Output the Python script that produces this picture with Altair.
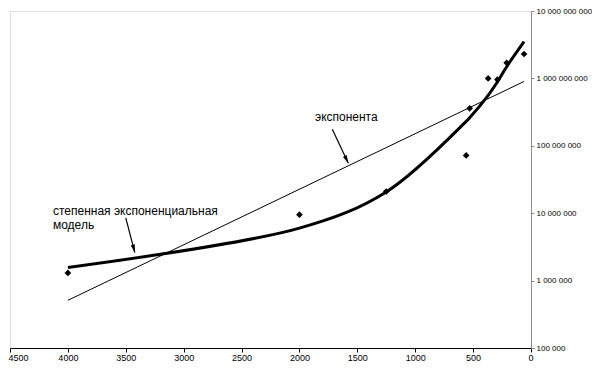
import altair as alt
import pandas as pd

# observed points (years before present, value)
pts_x = [4000, 2000, 1250, 560, 530, 370, 290, 210, 60]
pts_y = [1.3e6, 9.5e6, 2.1e7, 7.2e7, 3.6e8, 1.0e9, 9.6e8, 1.7e9, 2.3e9]

# exponential trend (straight line on log scale)
exp_x = [4000, 60]
exp_y = [5.1e5, 9.0e8]

# power-exponential model values at the data years
model_x = [4000, 2000, 1250, 560, 530, 370, 290, 210, 60]
model_y = [1.57e6, 6.0e6, 2.07e7, 2.3e8, 2.6e8, 5.6e8, 8.9e8, 1.49e9, 3.5e9]

x_ticks = list(range(0, 4501, 500))
y_ticks = [1e5, 1e6, 1e7, 1e8, 1e9, 1e10]

# annotations
ann1_text = ["экспонента"]
ann1_x = [1595]
ann1_y = [2.7e8]
ann2_text = ["степенная экспоненциальная\nмодель"]
ann2_x = [4129]
ann2_y = [1.08e7]

arrow_x = [1716, 3500]
arrow_y = [1.76e8, 8.5e6]
arrow_x2 = [1578, 3422]
arrow_y2 = [5.5e7, 2.6e6]
arrow_angle = [154.8, 165.6]

FONT = "Liberation Sans"

xscale = alt.Scale(domain=[0, 4500], reverse=True, nice=False, zero=False)
yscale = alt.Scale(type="log", domain=[1e5, 1e10], nice=False)

xaxis = alt.Axis(values=x_ticks, format="d", title=None, grid=False,
                 labelFont=FONT, labelFontSize=9, labelColor="black",
                 domainColor="black", tickColor="black", tickSize=4,
                 labelPadding=1, labelFlush=True, labelFlushOffset=2)
yaxis = alt.Axis(orient="right", values=y_ticks, title=None, grid=False,
                 labelExpr="replace(format(datum.value, ',d'), regexp(',', 'g'), ' ')",
                 labelFont=FONT, labelFontSize=8, labelColor="black",
                 domainColor="#8c8c8c", tickColor="#8c8c8c", tickSize=3,
                 labelPadding=2)

X = lambda f: alt.X(f, type="quantitative", scale=xscale, axis=xaxis)
Y = lambda f: alt.Y(f, type="quantitative", scale=yscale, axis=yaxis)

pts = pd.DataFrame({"x": pts_x, "y": pts_y})
expd = pd.DataFrame({"x": exp_x, "y": exp_y})
mod = pd.DataFrame({"x": model_x, "y": model_y})
a1 = pd.DataFrame({"x": ann1_x, "y": ann1_y, "t": ann1_text})
a2 = pd.DataFrame({"x": ann2_x, "y": ann2_y, "t": ann2_text})
arr = pd.DataFrame({"x": arrow_x, "y": arrow_y, "x2": arrow_x2, "y2": arrow_y2,
                    "a": arrow_angle})

exp_line = alt.Chart(expd).mark_line(color="black", strokeWidth=1).encode(
    x=X("x"), y=Y("y"))
model_line = alt.Chart(mod).mark_line(color="black", strokeWidth=3,
                                      interpolate="catmull-rom").encode(
    x=X("x"), y=Y("y"))
points = alt.Chart(pts).mark_point(shape="diamond", filled=True, color="black",
                                   size=45, opacity=1).encode(x=X("x"), y=Y("y"))
t1 = alt.Chart(a1).mark_text(font=FONT, fontSize=12, color="black",
                             align="center", baseline="middle").encode(
    x=X("x"), y=Y("y"), text="t:N")
t2 = alt.Chart(a2).mark_text(font=FONT, fontSize=12, color="black",
                             align="left", baseline="middle", lineBreak="\n",
                             lineHeight=14).encode(
    x=X("x"), y=Y("y"), text="t:N")
rules = alt.Chart(arr).mark_rule(color="black", strokeWidth=1.2).encode(
    x=X("x"), y=Y("y"), x2="x2:Q", y2="y2:Q")
heads = alt.Chart(arr).mark_point(shape="M0,0L-0.26,1L0.26,1Z", filled=True,
                                  color="black", size=260, opacity=1).encode(
    x=X("x2"), y=Y("y2"), angle=alt.Angle("a:Q", scale=None))

chart = alt.layer(exp_line, model_line, points, t1, t2, rules, heads).properties(
    width=521, height=337,
    autosize=alt.AutoSizeParams(type="none"),
    padding={"left": 2, "top": 3, "right": 61, "bottom": 13},
).configure_view(stroke="#a8a8a8", strokeWidth=1).configure(background="white")

chart.save("out.html", embed_options={"renderer": "svg", "actions": False})
